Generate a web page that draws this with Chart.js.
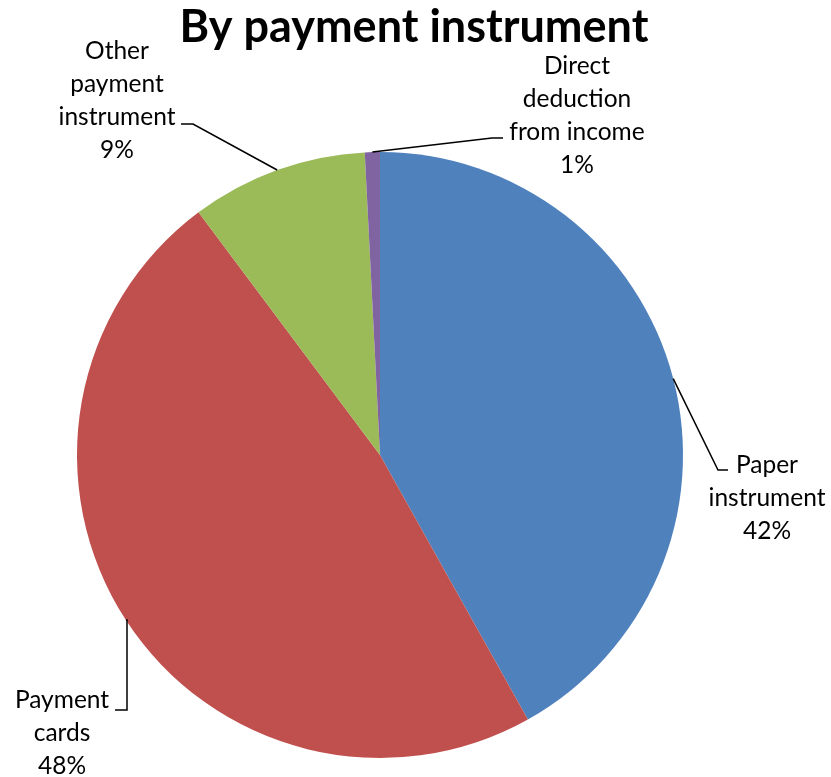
<!DOCTYPE html>
<html>
<head>
<meta charset="utf-8">
<script src="https://cdn.jsdelivr.net/npm/chart.js@4"></script>
<style>
html,body{margin:0;padding:0;background:#fff;}
#wrap{width:831px;height:777px;position:relative;}
</style>
</head>
<body>
<div id="wrap"><canvas id="c" width="831" height="777"></canvas></div>
<script>
const titleText = 'By payment instrument';
const categories = ['Paper instrument', 'Payment cards', 'Other payment instrument', 'Direct deduction from income'];
const labelLines = [['Paper', 'instrument'], ['Payment', 'cards'], ['Other', 'payment', 'instrument'], ['Direct', 'deduction', 'from income']];
const shares = [41.8, 47.8, 9.4, 0.8];
const colors = ['#4F81BD', '#C0504D', '#9BBB59', '#8064A2'];

const FONT = 'Lato, "Open Sans", sans-serif';

// label layout: text center x, first line y, elbow point, end of horizontal tail
const labelLayout = [
  {cx: 767, y0: 465, ex: 718, ey: 470, hx: 728},
  {cx: 62, y0: 700, ex: 127, ey: 710, hx: 115, vertical: true},
  {cx: 117, y0: 51, ex: 193, ey: 124, hx: 181},
  {cx: 577, y0: 66, ex: 492, ey: 138, hx: 503}
];

const labelPlugin = {
  id: 'labelPlugin',
  afterDraw(chart) {
    const ctx = chart.ctx;
    const meta = chart.getDatasetMeta(0);
    const total = shares.reduce((a, b) => a + b, 0);
    ctx.save();
    ctx.fillStyle = '#000';
    ctx.font = 'bold 45px ' + FONT;
    ctx.textAlign = 'center';
    ctx.textBaseline = 'middle';
    ctx.fillText(titleText, 414, 27);

    ctx.font = '24.5px ' + FONT;
    meta.data.forEach((arc, i) => {
      const L = labelLayout[i];
      const mid = (arc.startAngle + arc.endAngle) / 2;
      const px = arc.x + Math.cos(mid) * arc.outerRadius;
      const py = arc.y + Math.sin(mid) * arc.outerRadius;
      ctx.strokeStyle = '#000';
      ctx.lineWidth = 1.5;
      ctx.beginPath();
      ctx.moveTo(px, py);
      if (L.vertical) {
        ctx.lineTo(L.ex, py);
      }
      ctx.lineTo(L.ex, L.ey);
      ctx.lineTo(L.hx, L.ey);
      ctx.stroke();
      const lines = labelLines[i].concat([Math.round(shares[i] / total * 100) + '%']);
      ctx.fillStyle = '#000';
      ctx.textAlign = 'center';
      ctx.textBaseline = 'middle';
      lines.forEach((t, k) => ctx.fillText(t, L.cx, L.y0 + k * 33));
    });
    ctx.restore();
  }
};

new Chart(document.getElementById('c'), {
  type: 'pie',
  data: {
    labels: categories,
    datasets: [{
      data: shares,
      backgroundColor: colors,
      borderWidth: 0
    }]
  },
  options: {
    responsive: false,
    animation: false,
    layout: {padding: {left: 77, right: 148, top: 152, bottom: 19}},
    plugins: {legend: {display: false}, tooltip: {enabled: false}, title: {display: false}}
  },
  plugins: [labelPlugin]
});
</script>
</body>
</html>
